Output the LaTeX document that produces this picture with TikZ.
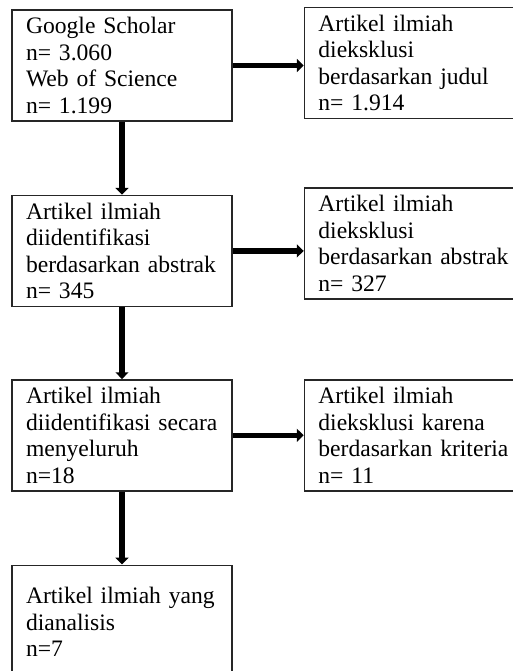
\documentclass[tikz,border=0pt]{standalone}
\usepackage{fontspec}
\setmainfont{Liberation Serif}
\usetikzlibrary{positioning,arrows.meta}

\begin{document}
\begin{tikzpicture}[
node distance=36.5pt,
block/.style={
draw=black!85,
line width=0.7pt,
minimum width=110pt,
minimum height=55.5pt,
text width=96pt,
inner xsep=7pt,
inner ysep=1pt,
align=left,
font=\fontsize{11.8pt}{13.3pt}\selectfont
},
arrow/.style={
-{Triangle[length=3.4pt,width=6.4pt]},
line width=2.8pt
}
]

\useasboundingbox (0,0) rectangle (256.5pt,-335.5pt);


% Sumber
\node[block] (src) at (61pt,-32.75pt)
{
Google Scholar\\
n= 3.060\\
Web of Science\\
n= 1.199
};


% Identifikasi
\node[block,below=of src] (abs)
{
Artikel ilmiah\\
diidentifikasi\\
berdasarkan abstrak\\
n= 345
};


\node[block,below=36pt of abs] (full)
{
Artikel ilmiah\\
diidentifikasi secara\\
menyeluruh\\
n=18
};


\node[block,below=of full,minimum height=57pt] (final)
{
Artikel ilmiah yang\\
dianalisis\\
n=7
};


% Eksklusi
\node[block,right=35.5pt of src,yshift=1.25pt] (exjudul)
{
Artikel ilmiah\\
dieksklusi\\
berdasarkan judul\\
n= 1.914
};


\node[block,right=35.5pt of abs,yshift=3.75pt] (exabs)
{
Artikel ilmiah\\
dieksklusi\\
berdasarkan abstrak\\
n= 327
};


\node[block,right=35.5pt of full] (exkrit)
{
Artikel ilmiah\\
dieksklusi karena\\
berdasarkan kriteria\\
n= 11
};



% arrows
\draw[arrow] (src)--(abs);
\draw[arrow] (abs)--(full);
\draw[arrow] (full)--(final);

\draw[arrow] (src.east)--(src.east -| exjudul.west);
\draw[arrow] (abs.east)--(abs.east -| exabs.west);
\draw[arrow] (full.east)--(full.east -| exkrit.west);


\end{tikzpicture}
\end{document}
